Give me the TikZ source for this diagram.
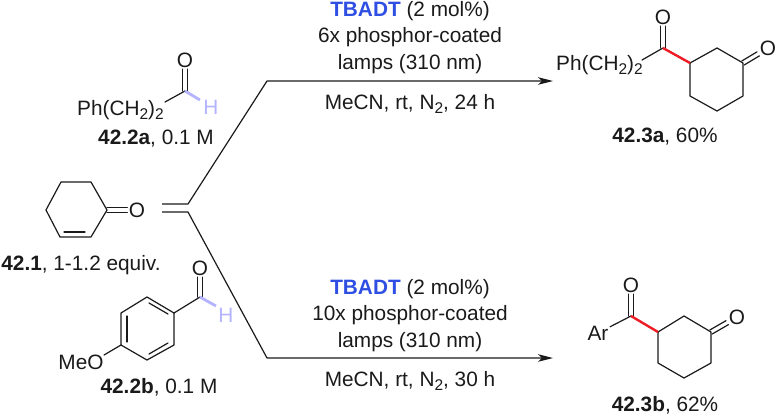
\documentclass[tikz,border=0pt]{standalone}
\usepackage{fontspec}
\setmainfont{Liberation Sans}
\usepackage{tikz}
\usetikzlibrary{arrows.meta,calc}
\definecolor{chemBlue}{HTML}{2F4FE3}
\definecolor{chemLilac}{HTML}{B3B3FF}
\definecolor{chemRed}{HTML}{EE1C25}
\definecolor{chemInk}{HTML}{1A1A1A}
\newcommand{\subtwo}{\raisebox{-0.4ex}{\fontsize{15.5}{15.5}\selectfont 2}}
\newcommand{\cpd}[1]{\textbf{#1}}

\begin{document}
\begin{tikzpicture}[
          x=1pt, y=-1pt,
          txt/.style={font=\fontsize{20.8}{24}\selectfont, text=chemInk, inner sep=0pt, align=center},
          atom/.style={txt, inner sep=1.5pt},
          bond/.style={draw=chemInk, line width=1.2pt, line cap=round, line join=round},
          bondL/.style={bond, transform canvas={xshift=-2.3pt}},
          bondR/.style={bond, transform canvas={xshift=2.3pt}},
          bondUL/.style={bond, transform canvas={xshift=-1.2pt,yshift=2pt}},
          bondDR/.style={bond, transform canvas={xshift=1.2pt,yshift=-2pt}},
          bondU/.style={bond, transform canvas={yshift=2.3pt}},
          bondD/.style={bond, transform canvas={yshift=-2.3pt}},
          cleave/.style={draw=chemLilac, line width=2.8pt},
          formed/.style={draw=chemRed, line width=2.4pt},
          flow/.style={-{Stealth[length=15pt,width=7.5pt,inset=4pt]}, draw=chemInk, line width=1.2pt, line join=round}
        ]
          \useasboundingbox (0,0) rectangle (776,416);
          % aldehyde a
          \coordinate (aC) at (185,91);
          \node[atom] (aO) at (185,60) {O};
          \node[atom, text=chemLilac] (aH) at (211,107) {H};
          \node[txt, anchor=west] (aR) at (77,110) {Ph(CH\subtwo)\subtwo};
          \node[txt] (aLab) at (156,139) {\cpd{42.2a}, 0.1 M};
          \draw[bondL] (aC) -- (aO);
          \draw[bondR] (aC) -- (aO);
          \draw[bond] (aC) -- (165,102);
          \draw[cleave] (aC) -- (200,100);
          % enone
          \coordinate (e1) at (107,210);
          \coordinate (e2) at (91,182);
          \coordinate (e3) at (61,182);
          \coordinate (e4) at (46,210);
          \coordinate (e5) at (60,237);
          \coordinate (e6) at (91,237);
          \node[atom] (eO) at (137,210) {O};
          \node[txt] (eLab) at (81,265) {\cpd{42.1}, 1-1.2 equiv.};
          \draw[bond] (e1) -- (e2) -- (e3) -- (e4) -- (e5) -- (e6) -- cycle;
          \draw[bond] (64,232) -- (85,232);
          \draw[bondU] (e1) -- (eO);
          \draw[bondD] (e1) -- (eO);
          % aldehyde b
          \coordinate (bC) at (200,297);
          \coordinate (r1) at (174,313);
          \coordinate (r2) at (174,345);
          \coordinate (r3) at (147,360);
          \coordinate (r4) at (121,345);
          \coordinate (r5) at (121,313);
          \coordinate (r6) at (147,297);
          \node[atom] (bO) at (200,268) {O};
          \node[atom, text=chemLilac] (bH) at (226,315) {H};
          \node[txt] (bR) at (81,362) {MeO};
          \node[txt] (bLab) at (159,387) {\cpd{42.2b}, 0.1 M};
          \draw[bond] (r1) -- (r2) -- (r3) -- (r4) -- (r5) -- (r6) -- cycle;
          \draw[bond] (127,316) -- (127,342);
          \draw[bond] (149,303) -- (168,314);
          \draw[bond] (149,354) -- (168,343);
          \draw[bond] (r1) -- (bC);
          \draw[bond] (r4) -- (104,355);
          \draw[bondL] (bC) -- (bO);
          \draw[bondR] (bC) -- (bO);
          \draw[cleave] (bC) -- (216,306);
          % arrows
          \coordinate (jU) at (162,204);
          \coordinate (jD) at (162,212);
          \coordinate (kU) at (188,204);
          \coordinate (kD) at (188,212);
          \coordinate (mU) at (267,81);
          \coordinate (mD) at (267,358);
          \coordinate (pU) at (553,81);
          \coordinate (pD) at (553,358);
          \draw[flow] (jU) -- (kU) -- (mU) -- (pU);
          \draw[flow] (jD) -- (kD) -- (mD) -- (pD);
          % conditions
          \node[txt] (upA) at (410,11) {\textcolor{chemBlue}{\textbf{TBADT}} (2 mol\%)};
          \node[txt] (upB) at (410,37) {6x phosphor-coated};
          \node[txt] (upC) at (410,64) {lamps (310 nm)};
          \node[txt] (upD) at (410,104) {MeCN, rt, N\subtwo, 24 h};
          \node[txt] (loA) at (410,289) {\textcolor{chemBlue}{\textbf{TBADT}} (2 mol\%)};
          \node[txt] (loB) at (410,315) {10x phosphor-coated};
          \node[txt] (loC) at (410,342) {lamps (310 nm)};
          \node[txt] (loD) at (410,381) {MeCN, rt, N\subtwo, 30 h};
          % product a
          \coordinate (pC) at (663,48);
          \coordinate (s1) at (690,63);
          \coordinate (s2) at (717,48);
          \coordinate (s3) at (743,63);
          \coordinate (s4) at (743,96);
          \coordinate (s5) at (717,111);
          \coordinate (s6) at (690,96);
          \node[atom] (pO) at (663,17) {O};
          \node[atom] (sO) at (768,48) {O};
          \node[txt, anchor=west] (pR) at (556,65) {Ph(CH\subtwo)\subtwo};
          \node[txt] (pLab) at (665,137) {\cpd{42.3a}, 60\%};
          \draw[bond] (s1) -- (s2) -- (s3) -- (s4) -- (s5) -- (s6) -- cycle;
          \draw[bond] (pC) -- (642,60);
          \draw[bondL] (pC) -- (pO);
          \draw[bondR] (pC) -- (pO);
          \draw[bondUL] (s3) -- (sO);
          \draw[bondDR] (s3) -- (sO);
          \draw[formed] (pC) -- (s1);
          % product b
          \coordinate (qC) at (631,316);
          \coordinate (t1) at (658,332);
          \coordinate (t2) at (684,316);
          \coordinate (t3) at (711,332);
          \coordinate (t4) at (711,363);
          \coordinate (t5) at (684,378);
          \coordinate (t6) at (658,363);
          \node[atom] (qO) at (631,285) {O};
          \node[atom] (tO) at (737,317) {O};
          \node[atom] (qR) at (598,333) {Ar};
          \node[txt] (qLab) at (665,405) {\cpd{42.3b}, 62\%};
          \draw[bond] (t1) -- (t2) -- (t3) -- (t4) -- (t5) -- (t6) -- cycle;
          \draw[bond] (qC) -- (qR);
          \draw[bondL] (qC) -- (qO);
          \draw[bondR] (qC) -- (qO);
          \draw[bondUL] (t3) -- (tO);
          \draw[bondDR] (t3) -- (tO);
          \draw[formed] (qC) -- (t1);
        \end{tikzpicture}
\end{document}
